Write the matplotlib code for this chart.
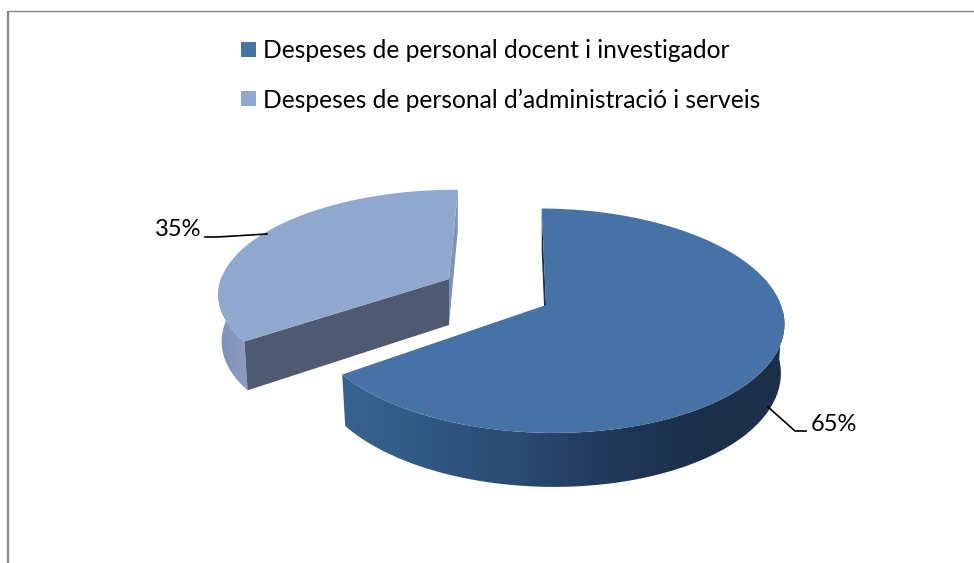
import matplotlib

matplotlib.use("Agg")

import matplotlib.pyplot as plt
import numpy as np
from matplotlib.colors import LinearSegmentedColormap
from matplotlib.patches import Polygon, Rectangle

categories = [
    "Despeses de personal docent i investigador",
    "Despeses de personal d\u2019administració i serveis",
]
values = [65, 35]
colors = ["#4672A6", "#90A8CE"]

START_ANGLE = 89.5

# projection of each slice, in pixels
dark_view = dict(cx=546, cy=305, rx=235, ry=110, k=0.14, shear=7, drop=48, drop_v=6)
light_view = dict(cx=449, cy=279, rx=228, ry=100, k=0.12, shear=-8, drop=46, drop_v=5)


def project(angle, view, bottom=False):
    theta = np.radians(angle)
    u, v = np.cos(theta), np.sin(theta)
    den = 1 + view["k"] * v
    x = (view["rx"] * u - view["shear"] * v) / den
    y = -view["ry"] * v / den
    if bottom:
        return view["cx"] + 0.985 * x, view["cy"] + y + view["drop"] - view["drop_v"] * v
    return view["cx"] + x, view["cy"] + y


def gradient_fill(ax, xs, ys, stops, zorder):
    cmap = LinearSegmentedColormap.from_list("side", stops)
    extent = (min(xs), max(xs), max(ys), min(ys))
    img = ax.imshow(
        np.linspace(0, 1, 256).reshape(1, -1),
        cmap=cmap,
        extent=extent,
        aspect="auto",
        zorder=zorder,
    )
    patch = Polygon(np.column_stack([xs, ys]), transform=ax.transData, fc="none", ec="none")
    ax.add_patch(patch)
    img.set_clip_path(patch)


def face(ax, angle, view, color, zorder):
    px, py = project(angle, view)
    qx, qy = project(angle, view, bottom=True)
    cx, cy = view["cx"], view["cy"]
    ax.fill([cx, px, qx, cx], [cy, py, qy, cy + view["drop"]], color=color, lw=0, zorder=zorder)


def rim(ax, a0, a1, view, stops):
    angles = np.linspace(a0, a1, 200)
    xt, yt = project(angles, view)
    xb, yb = project(angles, view, bottom=True)
    gradient_fill(ax, np.concatenate([xt, xb[::-1]]), np.concatenate([yt, yb[::-1]]), stops, 2.5)


def top(ax, a0, a1, view, color):
    xs, ys = project(np.linspace(a0, a1, 300), view)
    ax.fill(np.append(xs, view["cx"]), np.append(ys, view["cy"]), color=color, lw=0, zorder=4)


fig = plt.figure(figsize=(9.74, 5.63), dpi=100)
ax = fig.add_axes([0, 0, 1, 1])

edges = START_ANGLE - np.cumsum([0] + [v / sum(values) * 360 for v in values])

# first slice, clockwise from the start angle
face(ax, edges[0], dark_view, "#1B2F4A", 2)
rim(ax, edges[1], -3, dark_view, ["#38628F", "#315883", "#2A4A72", "#21395A", "#1B2F4A", "#1B2F4A"])
top(ax, edges[0], edges[1], dark_view, colors[0])

# second slice closes the circle, with its own offset
face(ax, edges[2] + 360, light_view, "#7F93B8", 2)
face(ax, edges[1] + 360, light_view, "#4F5A70", 3)
rim(ax, edges[1] + 360, 178, light_view, ["#7F92B6", "#8A9DC2"])
top(ax, edges[1] + 360, edges[2] + 360, light_view, colors[1])

ax.set_xlim(0, 974)
ax.set_ylim(563, 0)
ax.axis("off")

# chart frame
ax.plot([8, 8], [563, 10.5], color="#868686", lw=1.6, solid_capstyle="butt")
ax.plot([8, 974], [10.5, 10.5], color="#868686", lw=1.0, solid_capstyle="butt")

# legend
for i, (label, color) in enumerate(zip(categories, colors)):
    y = 49.5 + i * 49
    ax.add_patch(Rectangle((241, y - 7.5), 15, 15, fc=color, ec="none"))
    ax.text(263, y + 1.5, label, fontsize=17.7, family="Lato", color="black", va="center", ha="left")

# data labels with leader lines
ax.text(155, 229.5, f"{values[1]}%", fontsize=17, family="Lato", va="center", ha="left")
ax.text(811, 424.5, f"{values[0]}%", fontsize=17, family="Lato", va="center", ha="left")
ax.plot([205, 217, 267], [237, 237, 234], color="black", lw=1.2, zorder=5)
ax.plot([768, 795, 806], [407, 431, 431], color="black", lw=1.2, zorder=5)

fig.savefig("out.png", dpi=100)
plt.close(fig)
